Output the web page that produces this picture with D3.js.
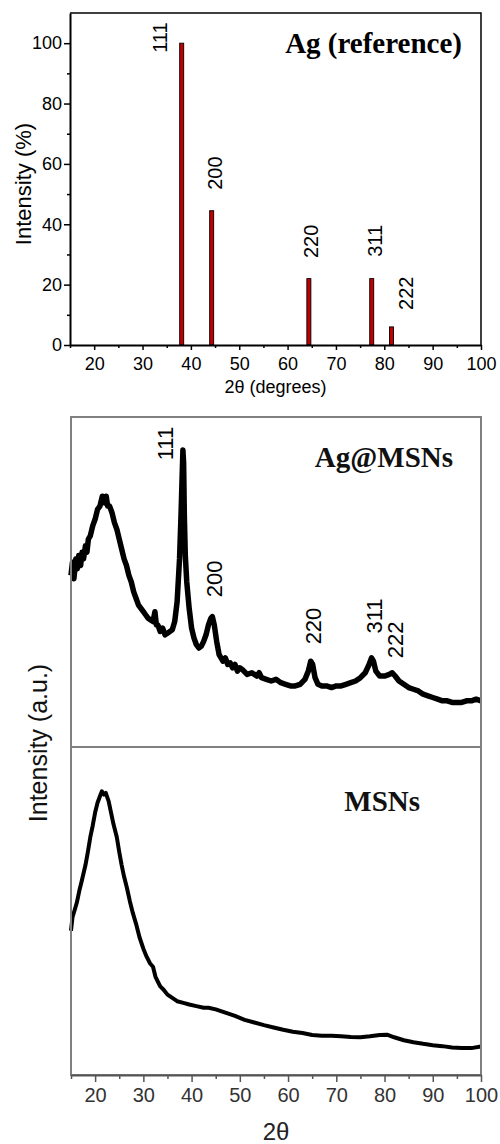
<!DOCTYPE html>
<html>
<head>
<meta charset="utf-8">
<script src="https://cdn.jsdelivr.net/npm/d3@7"></script>
<style>
  body { margin: 0; background: #fff; }
  svg { display: block; }
  .axis text { font-family: "Liberation Sans", Arial, sans-serif; }
</style>
</head>
<body>
<div id="chart"></div>
<script>
const width = 500;
const height = 1144;

// ----------------------------- DATA -----------------------------//
// reference pattern for Ag (2theta, relative intensity %)
const refPlanes = ["111", "200", "220", "311", "222"];
const refAngles = [38.1, 44.3, 64.4, 77.4, 81.5];
const refIntensity = [100, 44.5, 22, 22, 6];
// where each hkl label sits (2theta, intensity) in the top panel
const refLabelAt = [[35.0, 96.8], [46.35, 51.4], [66.2, 28.8], [79.45, 29.2], [85.9, 11.6]];

// Ag@MSNs pattern (2theta, a.u.)
const agMsnsAngle = [15.0, 15.3, 15.6, 16.0, 16.3, 16.6, 17.0, 17.3, 17.6, 18.0, 18.3, 18.6, 19.0, 19.5, 20.0, 20.5, 21.0, 21.5, 22.0, 22.3,
  22.6, 23.0, 23.5, 24.0, 24.5, 25.0, 25.5, 26.0, 26.5, 27.0, 27.5, 28.0, 28.5, 29.0, 29.5, 30.0, 30.5, 31.0, 31.5, 32.0,
  32.4, 32.7, 33.0, 33.5, 34.0, 34.5, 35.0, 35.5, 36.0, 36.5, 37.0, 37.5, 37.8, 38.0, 38.2, 38.35, 38.5, 38.7, 39.0, 39.5,
  40.0, 40.5, 41.0, 41.5, 42.0, 42.5, 43.0, 43.5, 44.0, 44.3, 44.7, 45.2, 45.7, 46.5, 47.0, 47.5, 48.0, 48.5, 49.0, 49.5,
  50.0, 50.5, 51.5, 52.5, 53.5, 54.0, 54.5, 55.5, 56.5, 57.5, 58.5, 59.5, 60.5, 61.5, 62.5, 63.5, 64.2, 64.7, 65.1, 65.6,
  66.2, 67, 68, 69, 70, 71, 72, 73, 74, 75, 76, 76.8, 77.3, 77.7, 78.2, 79, 80, 81, 81.6, 82.2,
  83, 84, 85, 86, 87, 88, 89, 90, 91, 92, 93, 94, 95, 96, 97, 98, 99, 100];
const agMsnsCounts = [52, 56, 51, 57, 54, 58, 55, 59, 57, 61, 59, 63, 64, 67, 69, 72, 73, 76, 74, 76,
  73, 73, 71, 68, 66, 63, 60, 57, 55, 52, 50, 47, 45, 43, 42, 41, 40, 39, 38.5, 38,
  41, 37, 37, 35, 36, 34, 34.5, 35, 35.5, 38, 44, 57, 70, 80, 90, 86, 70, 58, 50, 42,
  36, 33, 31, 30, 30.5, 32, 34, 37, 39, 39.5, 37, 32, 28, 26, 27, 25, 25.5, 24, 25, 23,
  24, 23.5, 22, 22.5, 21.5, 22.5, 21, 20.5, 20, 20.5, 19.5, 19, 18.5, 18.5, 19, 20.5, 23, 26, 25, 21,
  19, 18.5, 18.5, 18, 18.5, 18.5, 19, 19.5, 20, 21, 22.5, 25, 27, 26, 23, 21.5, 21.5, 22, 22.5, 21.5,
  20, 19, 18, 17.5, 17, 16, 15.5, 15, 14.5, 14, 14, 13.5, 13.5, 13.5, 14, 14, 14.5, 14];
const agMsnsLabelAt = [[36.2, 86.9], [46.3, 45.4], [66.9, 31.1], [79.5, 34.4], [83.8, 26.9]];

// MSNs pattern (2theta, a.u.)
const msnsAngle = [15.0, 15.3, 15.7, 16.2, 16.7, 17.2, 17.6, 18.0, 18.5, 19.0, 19.5, 20.0, 20.5, 21.0, 21.4, 21.8, 22.2, 22.8, 23.3, 23.8,
  24.5, 25.0, 25.5, 26.0, 26.6, 27.2, 27.8, 28.5, 29.2, 30.0, 30.7, 31.4, 32.0, 32.5, 33.0, 33.5, 34.2, 35.0, 36, 37,
  38.3, 39.5, 41, 42.5, 43.5, 45, 47, 49, 51, 53, 55, 57, 59, 61, 63, 65, 67, 69, 71, 73,
  75, 77, 79, 80.5, 82, 84, 86, 88, 90, 92, 94, 96, 98, 100];
const msnsCounts = [44, 48, 50, 52.5, 56, 59, 61.5, 64, 68, 72.5, 76, 80, 83, 85, 86.5, 85.5, 86, 83.5, 80, 76.5,
  72.5, 68, 64, 60.5, 57, 53, 49.5, 46, 42, 38.5, 36, 34, 33, 30, 28.5, 27, 26, 24.5, 23.5, 22.5,
  22, 21.5, 21, 20.5, 20.5, 20, 19, 18, 16.8, 16, 15.2, 14.5, 13.8, 13.2, 12.8, 12.2, 12, 12, 11.8, 11.6,
  11.5, 11.8, 12.2, 12.3, 11.5, 10.6, 10, 9.5, 9.1, 8.8, 8.4, 8.2, 8.2, 8.7];

const majorTicks = [20, 30, 40, 50, 60, 70, 80, 90, 100];
const minorTicks = [15, 25, 35, 45, 55, 65, 75, 85, 95];
const refYTicks = [0, 20, 40, 60, 80, 100];
const refYMinor = [10, 30, 50, 70, 90];

const svg = d3.select("#chart").append("svg")
    .attr("width", width)
    .attr("height", height);

const sans = "'Liberation Sans', Arial, sans-serif";
const serif = "'Liberation Serif', 'Times New Roman', serif";

//------------------------- TOP: Ag reference -------------------------//
const refBox = {left: 70, right: 481, top: 13, bottom: 345};
const xTop = d3.scaleLinear().domain([15, 100]).range([refBox.left, refBox.right]);
const yTop = d3.scaleLinear().domain([0, 110]).range([refBox.bottom, refBox.top]);

// frame top + right
svg.append("path")
    .attr("d", `M${refBox.left},${refBox.top}H${refBox.right}V${refBox.bottom}`)
    .attr("fill", "none")
    .attr("stroke", "#000")
    .attr("stroke-width", 1.5);

// bars
const barW = 4;
svg.append("g").selectAll("rect")
    .data(refAngles)
    .join("rect")
    .attr("x", d => xTop(d) - barW / 2)
    .attr("y", (d, i) => yTop(refIntensity[i]))
    .attr("width", barW)
    .attr("height", (d, i) => yTop(0) - yTop(refIntensity[i]))
    .attr("fill", "#c00000")
    .attr("stroke", "#000")
    .attr("stroke-width", 0.9);

// axes
const xTopAxis = svg.append("g")
    .attr("class", "axis")
    .attr("transform", `translate(0,${refBox.bottom})`)
    .call(d3.axisBottom(xTop).tickValues(majorTicks).tickSize(5).tickSizeOuter(0).tickPadding(7));
svg.append("g")
    .attr("transform", `translate(0,${refBox.bottom})`)
    .call(d3.axisBottom(xTop).tickValues(minorTicks).tickSize(3).tickFormat(""))
    .call(g => g.select(".domain").remove());
const yTopAxis = svg.append("g")
    .attr("class", "axis")
    .attr("transform", `translate(${refBox.left},0)`)
    .call(d3.axisLeft(yTop).tickValues(refYTicks).tickSize(6).tickSizeOuter(0).tickPadding(2));
svg.append("g")
    .attr("transform", `translate(${refBox.left},0)`)
    .call(d3.axisLeft(yTop).tickValues(refYMinor).tickSize(3).tickFormat(""))
    .call(g => g.select(".domain").remove());

[xTopAxis, yTopAxis].forEach(g => {
    g.select(".domain").attr("stroke-width", 2);
    g.selectAll("text").attr("font-size", 18).attr("fill", "#000");
});
svg.selectAll(".tick line").attr("stroke-width", 1.5);

svg.append("text")
    .attr("x", (refBox.left + refBox.right) / 2)
    .attr("y", 393)
    .attr("text-anchor", "middle")
    .attr("font-family", sans)
    .attr("font-size", 18)
    .text("2θ (degrees)");

svg.append("text")
    .attr("transform", `translate(31,${(refBox.top + refBox.bottom) / 2 + 5}) rotate(-90)`)
    .attr("text-anchor", "middle")
    .attr("font-family", sans)
    .attr("font-size", 22)
    .text("Intensity (%)");

svg.append("text")
    .attr("x", 462)
    .attr("y", 53)
    .attr("text-anchor", "end")
    .attr("font-family", serif)
    .attr("font-weight", "bold")
    .attr("font-size", 29)
    .text("Ag (reference)");

svg.append("g").selectAll("text")
    .data(refPlanes)
    .join("text")
    .attr("transform", (d, i) => `translate(${xTop(refLabelAt[i][0])},${yTop(refLabelAt[i][1])}) rotate(-90)`)
    .attr("font-family", sans)
    .attr("font-size", 20)
    .text(d => d);

//---------------------- BOTTOM: Ag@MSNs / MSNs ----------------------//
const bot = {left: 71, right: 481, top: 417, mid: 747, bottom: 1075};
const xBot = d3.scaleLinear().domain([15, 100]).range([bot.left, bot.right]);
const yAg = d3.scaleLinear().domain([0, 100]).range([bot.mid, bot.top]);
const yMs = d3.scaleLinear().domain([0, 100]).range([bot.bottom, bot.mid]);

const line = (y) => d3.line()
    .x(d => xBot(d[0]))
    .y(d => y(d[1]));

svg.append("path")
    .datum(agMsnsAngle.map((a, i) => [a, agMsnsCounts[i]]))
    .attr("d", line(yAg))
    .attr("fill", "none")
    .attr("stroke", "#000")
    .attr("stroke-width", 5.5)
    .attr("stroke-linejoin", "round");

svg.append("path")
    .datum(msnsAngle.map((a, i) => [a, msnsCounts[i]]))
    .attr("d", line(yMs))
    .attr("fill", "none")
    .attr("stroke", "#000")
    .attr("stroke-width", 4)
    .attr("stroke-linejoin", "round");

// box and divider
svg.append("rect")
    .attr("x", bot.left)
    .attr("y", bot.top)
    .attr("width", bot.right - bot.left)
    .attr("height", bot.bottom - bot.top)
    .attr("fill", "none")
    .attr("stroke", "#808080")
    .attr("stroke-width", 2);
svg.append("line")
    .attr("x1", bot.left).attr("x2", bot.right)
    .attr("y1", bot.mid).attr("y2", bot.mid)
    .attr("stroke", "#808080")
    .attr("stroke-width", 2);

const xBotAxis = svg.append("g")
    .attr("class", "axis")
    .attr("transform", `translate(0,${bot.bottom})`)
    .call(d3.axisBottom(xBot).tickValues(majorTicks).tickSize(7).tickSizeOuter(0).tickPadding(6));
svg.append("g")
    .attr("transform", `translate(0,${bot.bottom})`)
    .call(d3.axisBottom(xBot).tickValues(minorTicks).tickSize(4).tickFormat(""))
    .call(g => g.select(".domain").remove())
    .selectAll("line").attr("stroke", "#555").attr("stroke-width", 1.5);
xBotAxis.select(".domain").attr("stroke", "#555").attr("stroke-width", 2);
xBotAxis.selectAll(".tick line").attr("stroke", "#555").attr("stroke-width", 1.5);
xBotAxis.selectAll("text").attr("font-size", 20).attr("fill", "#333");

svg.append("text")
    .attr("x", 276)
    .attr("y", 1140)
    .attr("text-anchor", "middle")
    .attr("font-family", sans)
    .attr("font-size", 24)
    .attr("fill", "#222")
    .text("2θ");

svg.append("text")
    .attr("transform", `translate(47,${bot.mid - 4}) rotate(-90)`)
    .attr("text-anchor", "middle")
    .attr("font-family", sans)
    .attr("font-size", 25)
    .attr("fill", "#111")
    .text("Intensity (a.u.)");

svg.append("text")
    .attr("x", 453)
    .attr("y", 467)
    .attr("text-anchor", "end")
    .attr("font-family", serif)
    .attr("font-weight", "bold")
    .attr("font-size", 29)
    .attr("fill", "#111")
    .text("Ag@MSNs");

svg.append("text")
    .attr("x", 420)
    .attr("y", 811)
    .attr("text-anchor", "end")
    .attr("font-family", serif)
    .attr("font-weight", "bold")
    .attr("font-size", 29)
    .attr("fill", "#111")
    .text("MSNs");

svg.append("g").selectAll("text")
    .data(refPlanes)
    .join("text")
    .attr("transform", (d, i) => `translate(${xBot(agMsnsLabelAt[i][0])},${yAg(agMsnsLabelAt[i][1])}) rotate(-90)`)
    .attr("font-family", sans)
    .attr("font-size", 22)
    .text(d => d);
</script>
</body>
</html>
